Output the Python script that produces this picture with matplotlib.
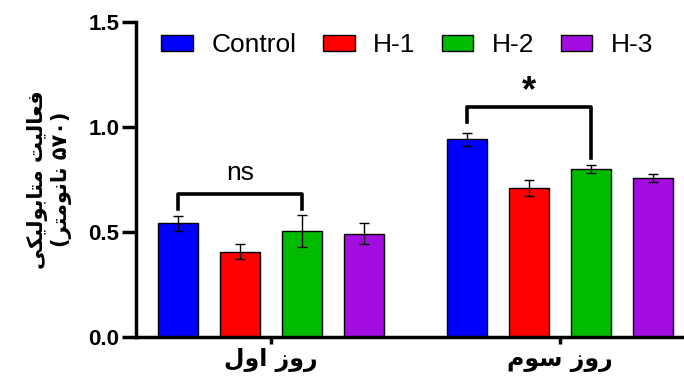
import matplotlib.pyplot as plt
import numpy as np

plt.rcParams['font.family'] = ['Liberation Sans', 'DejaVu Sans']

groups = ['روز اول', 'روز سوم']
series = ['Control', 'H-1', 'H-2', 'H-3']
colors = ['#0000FF', '#FF0000', '#00BB00', '#A30DE0']
means = {
    'Control': [0.54, 0.94],
    'H-1': [0.405, 0.71],
    'H-2': [0.505, 0.80],
    'H-3': [0.49, 0.757],
}
errs = {
    'Control': [0.035, 0.03],
    'H-1': [0.035, 0.037],
    'H-2': [0.077, 0.02],
    'H-3': [0.05, 0.02],
}
ylabel = 'فعالیت متابولیکی\n(۵۷۰ نانومتر)'

# simple Persian shaping: (isolated, final, initial, medial)
FORMS = {
    'ا': ('\uFE8D', '\uFE8E', '\uFE8D', '\uFE8E'),
    'ب': ('\uFE8F', '\uFE90', '\uFE91', '\uFE92'),
    'ت': ('\uFE95', '\uFE96', '\uFE97', '\uFE98'),
    'ر': ('\uFEAD', '\uFEAE', '\uFEAD', '\uFEAE'),
    'ز': ('\uFEAF', '\uFEB0', '\uFEAF', '\uFEB0'),
    'س': ('\uFEB1', '\uFEB2', '\uFEB3', '\uFEB4'),
    'ع': ('\uFEC9', '\uFECA', '\uFECB', '\uFECC'),
    'ف': ('\uFED1', '\uFED2', '\uFED3', '\uFED4'),
    'ک': ('\uFB8E', '\uFB8F', '\uFB90', '\uFB91'),
    'ل': ('\uFEDD', '\uFEDE', '\uFEDF', '\uFEE0'),
    'م': ('\uFEE1', '\uFEE2', '\uFEE3', '\uFEE4'),
    'ن': ('\uFEE5', '\uFEE6', '\uFEE7', '\uFEE8'),
    'و': ('\uFEED', '\uFEEE', '\uFEED', '\uFEEE'),
    'ی': ('\uFBFC', '\uFBFD', '\uFBFE', '\uFBFF'),
}
RIGHT_ONLY = set('ارزو')


def shape_word(w):
    out = []
    for i, ch in enumerate(w):
        if ch not in FORMS:
            out.append(ch)
            continue
        prev_joins = i > 0 and w[i - 1] in FORMS and w[i - 1] not in RIGHT_ONLY
        next_joins = i < len(w) - 1 and w[i + 1] in FORMS and ch not in RIGHT_ONLY
        idx = {(False, False): 0, (True, False): 1, (False, True): 2, (True, True): 3}[(prev_joins, next_joins)]
        out.append(FORMS[ch][idx])
    return ''.join(out)


def fa(text):
    lines = []
    for line in text.split('\n'):
        wrapped = line.startswith('(') and line.endswith(')')
        if wrapped:
            line = line[1:-1]
        tokens = []
        for tok in line.split(' '):
            if any(c in FORMS for c in tok):
                tokens.append(shape_word(tok)[::-1])
            else:
                tokens.append(tok)
        vis = ' '.join(tokens[::-1])
        if wrapped:
            vis = '(' + vis + ')'
        lines.append(vis)
    return '\n'.join(lines)


fig = plt.figure(figsize=(6.84, 3.89), dpi=100)
ax = fig.add_axes([0.199, 0.134, 0.801, 0.81])

x = np.arange(len(groups))
step = 0.2145
width = 0.138
for i, s in enumerate(series):
    pos = x + (i - 1.5) * step
    ax.bar(pos, means[s], width, color=colors[i], edgecolor='black', linewidth=1.0, label=s, zorder=2)
    ax.errorbar(pos, means[s], yerr=errs[s], fmt='none', ecolor='black', elinewidth=1.0,
                capsize=3.6, capthick=1.0, zorder=3)

# significance brackets
ax.plot([-1.5 * step, -1.5 * step, 0.5 * step, 0.5 * step], [0.61, 0.68, 0.68, 0.61],
        color='black', lw=2.6, zorder=3)
ax.text(-0.5 * step, 0.78, 'ns', ha='center', va='center', fontsize=19)
ax.plot([1 - 1.5 * step, 1 - 1.5 * step, 1 + 0.5 * step, 1 + 0.5 * step], [1.025, 1.095, 1.095, 0.85],
        color='black', lw=2.6, zorder=3)
ax.text(1 - 0.5 * step, 1.165, '*', ha='center', va='center', fontsize=26, fontweight='bold')

ax.set_ylim(0, 1.5)
ax.set_xlim(-0.466, 1.43)
ax.set_yticks([0.0, 0.5, 1.0, 1.5])
ax.set_yticklabels(['0.0', '0.5', '1.0', '1.5'], fontsize=16, fontweight='bold')
ax.set_xticks(x)
ax.set_xticklabels([fa(g) for g in groups], fontsize=17, fontweight='bold', family='DejaVu Sans')
ax.tick_params(axis='y', length=10, width=2.5, pad=2)
ax.tick_params(axis='x', length=5, width=2.5, pad=3)
ax.set_ylabel(fa(ylabel), fontsize=15, fontweight='bold', family='DejaVu Sans', labelpad=12,
              linespacing=1.15)

for side in ['top', 'right']:
    ax.spines[side].set_visible(False)
for side in ['left', 'bottom']:
    ax.spines[side].set_linewidth(2.5)

ax.legend(loc='center', bbox_to_anchor=(0.495, 0.925), ncol=4, frameon=False, fontsize=19,
          handlelength=1.2, handleheight=0.6, columnspacing=1.0, handletextpad=0.7,
          borderaxespad=0)

fig.savefig('out.png', dpi=100)
